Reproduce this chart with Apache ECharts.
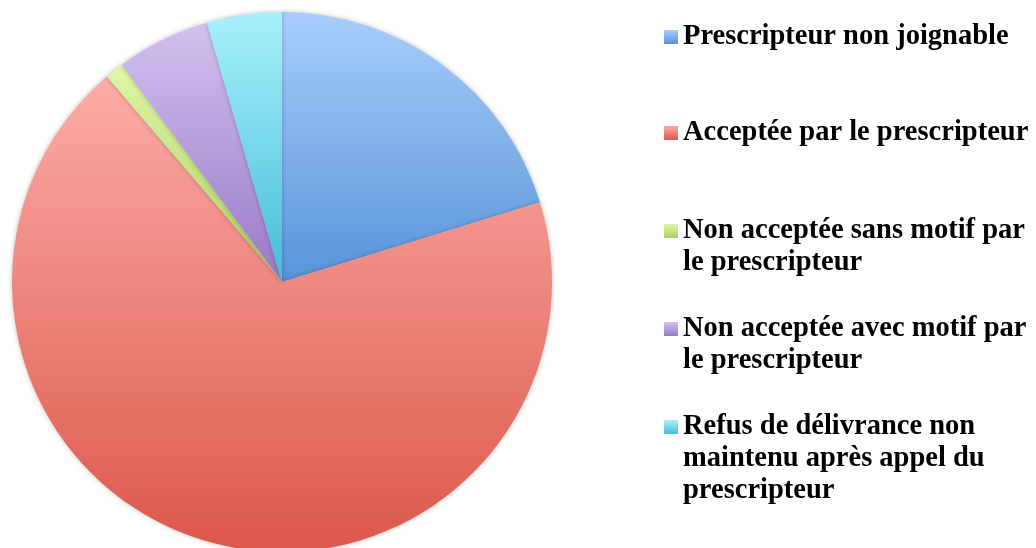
<!DOCTYPE html>
<html>
<head>
<meta charset="UTF-8">
<title>Interventions pharmaceutiques</title>
<script type="text/javascript" src="https://cdn.jsdelivr.net/npm/echarts@6/dist/echarts.min.js"></script>
<style>
html,body{margin:0;padding:0;background:#fff;}
</style>
</head>
<body>
<div id="main" style="width:1036px;height:548px;"></div>

<script type="text/javascript">
// categories (legend order)
var categories = [
  'Prescripteur non joignable',
  'Acceptée par le prescripteur',
  'Non acceptée sans motif par le prescripteur',
  'Non acceptée avec motif par le prescripteur',
  'Refus de délivrance non maintenu après appel du prescripteur'
];
// legend text as wrapped in the picture
var labelLines = [
  'Prescripteur non joignable',
  'Acceptée par le prescripteur',
  'Non acceptée sans motif par\nle prescripteur',
  'Non acceptée avec motif par\nle prescripteur',
  'Refus de délivrance non\nmaintenu après appel du\nprescripteur'
];
// values
var values = [18, 61, 1, 5, 4];
// gradient top / bottom colours of each slice
var topColors = ['#a9cdfb', '#fcaca7', '#e0f6a6', '#d2c1f0', '#a8f1fc'];
var bottomColors = ['#5894da', '#dc584b', '#a9d062', '#9878c6', '#45bcd8'];
// vertical centre of each legend marker
var legendY = [37, 133, 231, 329, 427];

var mychart = echarts.init(document.getElementById('main'));

function grad(i) {
  return new echarts.graphic.LinearGradient(0, 0, 0, 1, [
    {offset: 0, color: topColors[i]},
    {offset: 1, color: bottomColors[i]}
  ]);
}

var pieData = [];
for (var i = 0; i < categories.length; i++) {
  pieData.push({name: categories[i], value: values[i], itemStyle: {color: grad(i)}});
}

// one legend per item; blank lines in front keep the marker on the first text line
var LINE = 32;
var legends = [];
for (var k = 0; k < categories.length; k++) {
  var n = labelLines[k].split('\n').length;
  var txt = new Array(n).join('\n') + labelLines[k];
  legends.push({
    data: [categories[k]],
    left: 664,
    top: legendY[k] - (2 * n - 1) * LINE / 2,
    padding: 0,
    itemWidth: 14,
    itemHeight: 14,
    itemGap: 6,
    icon: 'rect',
    selectedMode: false,
    itemStyle: {shadowBlur: 0, borderWidth: 0},
    formatter: (function (t) { return function () { return t; }; })(txt),
    textStyle: {
      fontFamily: 'Liberation Serif',
      fontWeight: 'bold',
      fontSize: 28.5,
      color: '#000',
      lineHeight: LINE
    }
  });
}

var option = {
  animation: false,
  backgroundColor: '#fff',
  legend: legends,
  series: [{
    type: 'pie',
    center: [282, 282],
    radius: 270,
    startAngle: 90,
    clockwise: true,
    label: {show: false},
    labelLine: {show: false},
    emphasis: {disabled: true},
    itemStyle: {
      borderWidth: 0,
      shadowBlur: 5,
      shadowColor: 'rgba(0,0,0,0.25)'
    },
    data: pieData
  }]
};

mychart.setOption(option);
</script>
</body>
</html>
